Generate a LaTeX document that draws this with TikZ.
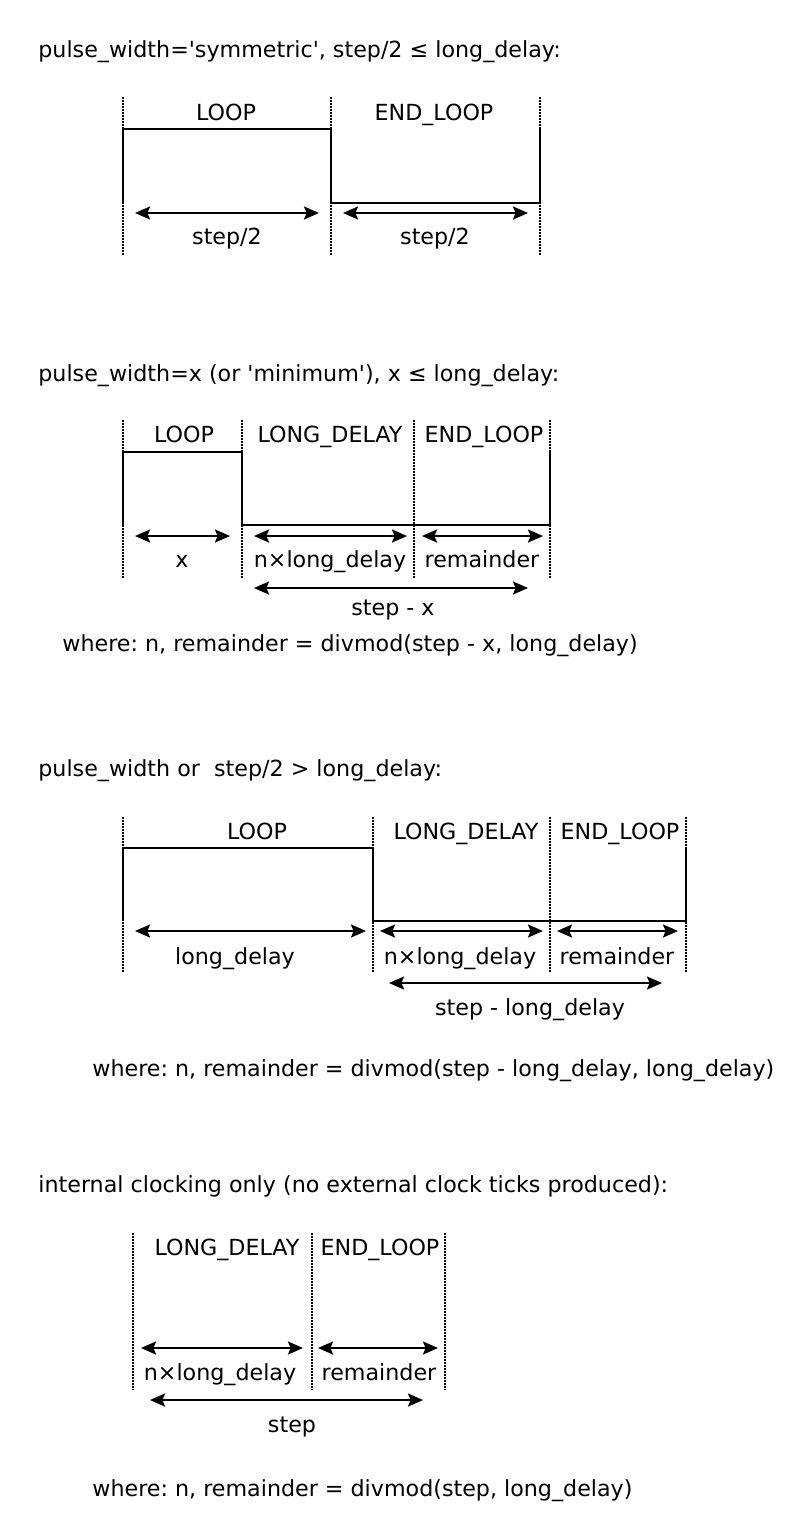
\documentclass[tikz,border=0pt]{standalone}
\usepackage{fontspec}
\setmainfont{DejaVu Sans}
\usetikzlibrary{arrows.meta}
\frenchspacing
\newcommand{\sq}{\textquotesingle}
\begin{document}
\begin{tikzpicture}[x=0.5pt,y=-0.5pt,
  lbl/.style={anchor=base,inner sep=0pt,font=\fontsize{11.1pt}{13pt}\selectfont},
  title/.style={anchor=base west,inner sep=0pt,font=\fontsize{11.1pt}{13pt}\selectfont},
  guide/.style={line width=0.75pt,dash pattern=on 0.75pt off 0.75pt},
  wave/.style={line width=1.1pt},
  dim/.style={line width=1.1pt,{Stealth[length=7.5pt,width=6.5pt,inset=1.3pt]}-{Stealth[length=7.5pt,width=6.5pt,inset=1.3pt]}}]
\useasboundingbox (0,0) rectangle (812,1539);

% ---------- Section 1 ----------
\node[title] (t1) at (38,57) {pulse\_width=\sq symmetric\sq, step/2 ≤ long\_delay:};
\foreach \x in {123,331,540} \draw[guide] (\x,97) -- (\x,255);
\draw[wave] (123,202) -- (123,129) -- (331,129) -- (331,203) -- (540,203) -- (540,129);
\node[lbl] (l1a) at (226,120) {LOOP};
\node[lbl] (l1b) at (434,120) {END\_LOOP};
\coordinate (a1s) at (135,213); \coordinate (a1e) at (319,213);
\coordinate (b1s) at (343,213); \coordinate (b1e) at (528,213);
\draw[dim] (a1s) -- (a1e);
\draw[dim] (b1s) -- (b1e);
\node[lbl] (s1a) at (227,244) {step/2};
\node[lbl] (s1b) at (435,244) {step/2};

% ---------- Section 2 ----------
\node[title] (t2) at (38,381) {pulse\_width=x (or \sq minimum\sq), x ≤ long\_delay:};
\foreach \x in {123,242,414,550} \draw[guide] (\x,420) -- (\x,578);
\draw[wave] (123,525) -- (123,452) -- (242,452) -- (242,525) -- (550,525) -- (550,452);
\node[lbl] (l2a) at (184,442) {LOOP};
\node[lbl] (l2b) at (330,442) {LONG\_DELAY};
\node[lbl] (l2c) at (484,442) {END\_LOOP};
\coordinate (a2s) at (135,536); \coordinate (a2e) at (230,536);
\coordinate (b2s) at (254,536); \coordinate (b2e) at (407,536);
\coordinate (c2s) at (422,536); \coordinate (c2e) at (543,536);
\coordinate (d2s) at (254,588); \coordinate (d2e) at (528,588);
\draw[dim] (a2s) -- (a2e);
\draw[dim] (b2s) -- (b2e);
\draw[dim] (c2s) -- (c2e);
\draw[dim] (d2s) -- (d2e);
\node[lbl] (m2a) at (182,567) {x};
\node[lbl] (m2b) at (330,567) {n×long\_delay};
\node[lbl] (m2c) at (482,567) {remainder};
\node[lbl] (m2d) at (393,615) {step - x};
\node[title] (w2) at (62,651) {where: n, remainder = divmod(step - x, long\_delay)};

% ---------- Section 3 ----------
\node[title] (t3) at (38,776) {pulse\_width or \ step/2 > long\_delay:};
\foreach \x in {123,373,550,686} \draw[guide] (\x,817) -- (\x,972);
\draw[wave] (123,921) -- (123,848) -- (373,848) -- (373,921) -- (686,921) -- (686,848);
\node[lbl] (l3a) at (257,839) {LOOP};
\node[lbl] (l3b) at (466,839) {LONG\_DELAY};
\node[lbl] (l3c) at (620,839) {END\_LOOP};
\coordinate (a3s) at (135,931); \coordinate (a3e) at (366,931);
\coordinate (b3s) at (380,931); \coordinate (b3e) at (543,931);
\coordinate (c3s) at (557,931); \coordinate (c3e) at (678,931);
\coordinate (d3s) at (389,983); \coordinate (d3e) at (662,983);
\draw[dim] (a3s) -- (a3e);
\draw[dim] (b3s) -- (b3e);
\draw[dim] (c3s) -- (c3e);
\draw[dim] (d3s) -- (d3e);
\node[lbl] (m3a) at (235,964) {long\_delay};
\node[lbl] (m3b) at (460,964) {n×long\_delay};
\node[lbl] (m3c) at (617,964) {remainder};
\node[lbl] (m3d) at (530,1015) {step - long\_delay};
\node[title] (w3) at (92,1076) {where: n, remainder = divmod(step - long\_delay, long\_delay)};

% ---------- Section 4 ----------
\node[title] (t4) at (38,1192) {internal clocking only (no external clock ticks produced):};
\foreach \x in {133,312,445} \draw[guide] (\x,1233) -- (\x,1390);
\node[lbl] (l4a) at (227,1255) {LONG\_DELAY};
\node[lbl] (l4b) at (380,1255) {END\_LOOP};
\coordinate (a4s) at (141,1348); \coordinate (a4e) at (303,1348);
\coordinate (b4s) at (318,1348); \coordinate (b4e) at (438,1348);
\coordinate (d4s) at (150,1400); \coordinate (d4e) at (423,1400);
\draw[dim] (a4s) -- (a4e);
\draw[dim] (b4s) -- (b4e);
\draw[dim] (d4s) -- (d4e);
\node[lbl] (m4a) at (220,1380) {n×long\_delay};
\node[lbl] (m4b) at (379,1380) {remainder};
\node[lbl] (m4d) at (292,1432) {step};
\node[title] (w4) at (92,1496) {where: n, remainder = divmod(step, long\_delay)};
\end{tikzpicture}
\end{document}
